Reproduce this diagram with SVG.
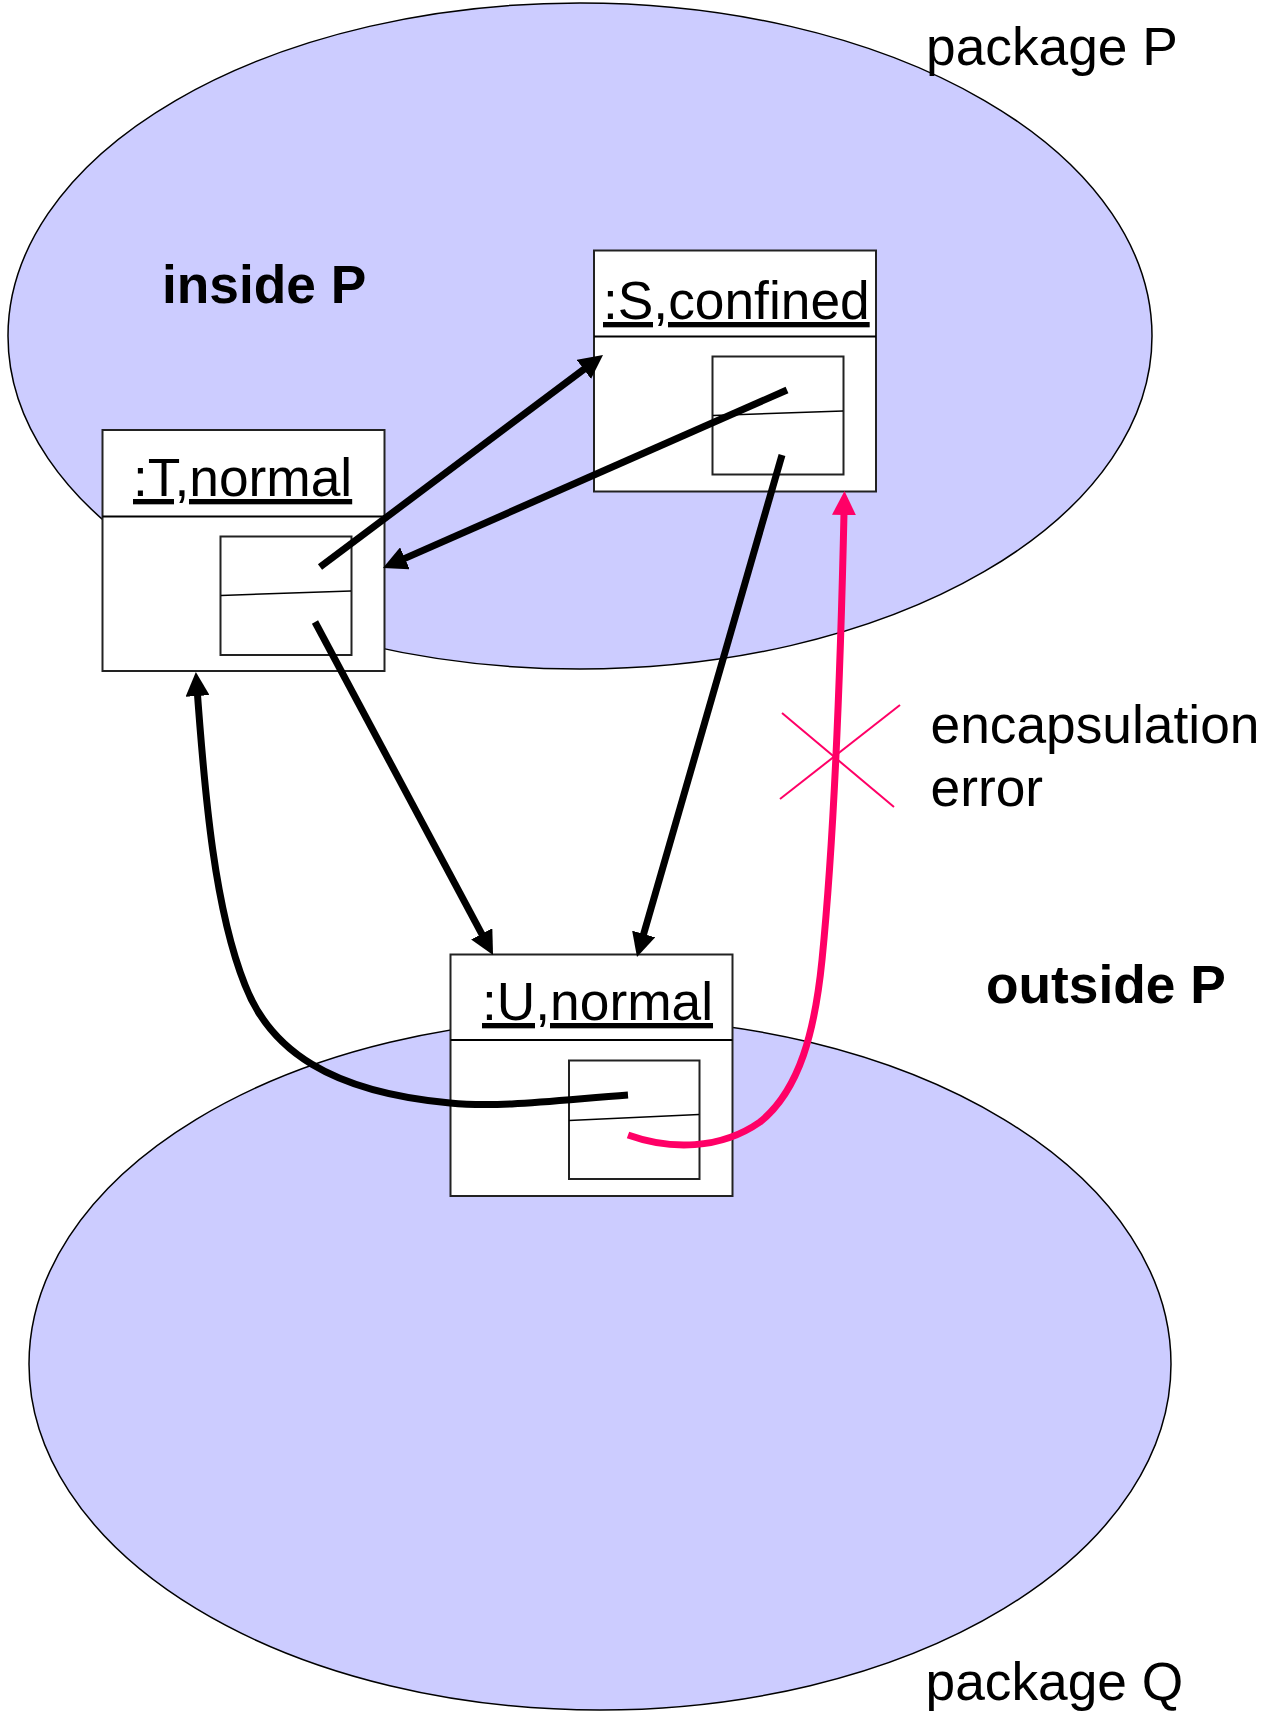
<svg xmlns="http://www.w3.org/2000/svg" width="1274" height="1713" viewBox="0 0 1274 1713">
<style>
  .pkg { fill: #CCCCFF; stroke: #000; stroke-width: 1.5; }
  .box { fill: #fff; stroke: #222; stroke-width: 2; }
  .sep { stroke: #000; stroke-width: 2; fill: none; }
  .thin { stroke: #000; stroke-width: 1.5; fill: none; }
  .lbl { font-family: "Liberation Sans", Arial, sans-serif; font-size: 53.3px; fill: #000; }
  .bold { font-weight: bold; }
  .ul { text-decoration: underline; }
  .conn { fill: none; stroke: #000; stroke-width: 7; }
  .err { fill: none; stroke: #FF0066; stroke-width: 7; }
  .cross { stroke: #FF0066; stroke-width: 2; }
</style>
<defs>
  <marker id="ah" markerUnits="userSpaceOnUse" viewBox="0 0 24 24" markerWidth="24" markerHeight="24" refX="15" refY="12" orient="auto">
    <path d="M0,0 L24,12 L0,24 z" fill="#000"/>
  </marker>
  <marker id="ahr" markerUnits="userSpaceOnUse" viewBox="0 0 24 24" markerWidth="24" markerHeight="24" refX="15" refY="12" orient="auto">
    <path d="M0,0 L24,12 L0,24 z" fill="#FF0066"/>
  </marker>
</defs>

<g id="packageP">
  <ellipse class="pkg" cx="580" cy="336" rx="572" ry="333"/>
  <text class="lbl" x="926" y="65">package P</text>
  <text class="lbl bold" x="162" y="303">inside P</text>
</g>

<g id="packageQ">
  <ellipse class="pkg" cx="600" cy="1364" rx="571" ry="346"/>
  <text class="lbl" x="925.5" y="1700">package Q</text>
</g>

<g id="outsideP">
  <text class="lbl bold" x="986" y="1003">outside P</text>
</g>

<g id="nodeS">
  <rect class="box" x="594" y="250.5" width="282" height="241"/>
  <line class="sep" x1="594" y1="336.5" x2="876" y2="336.5"/>
  <text class="lbl ul" x="603" y="319">:S,confined</text>
  <rect class="box" x="712.5" y="356.5" width="131" height="118"/>
  <line class="thin" x1="713" y1="415.5" x2="843" y2="411"/>
</g>

<g id="nodeT">
  <rect class="box" x="102.5" y="430" width="282" height="241"/>
  <line class="sep" x1="102.5" y1="516.5" x2="384.5" y2="516.5"/>
  <text class="lbl ul" x="133" y="496">:T,normal</text>
  <rect class="box" x="220.5" y="536.5" width="131" height="118.5"/>
  <line class="thin" x1="221" y1="595.5" x2="351" y2="591"/>
</g>

<g id="nodeU">
  <rect class="box" x="450.5" y="954.5" width="282" height="241.5"/>
  <line class="sep" x1="450.5" y1="1040" x2="732.5" y2="1040"/>
  <text class="lbl ul" x="482" y="1020">:U,normal</text>
  <rect class="box" x="569" y="1060.5" width="130.5" height="118.5"/>
  <line class="thin" x1="569" y1="1120.5" x2="699" y2="1114.5"/>
</g>

<g id="encapsulationError">
  <line class="cross" x1="782" y1="713" x2="894" y2="807"/>
  <line class="cross" x1="780" y1="799" x2="900" y2="705"/>
  <text class="lbl" x="930.5" y="743">encapsulation</text>
  <text class="lbl" x="930.5" y="806">error</text>
</g>

<g id="connectors">
  <path class="conn" d="M320,567 L595.8,360.4" marker-end="url(#ah)"/>
  <path class="conn" d="M787,390 L391.2,564.4" marker-end="url(#ah)"/>
  <path class="conn" d="M782,455 L639.5,948.4" marker-end="url(#ah)"/>
  <path class="conn" d="M315,622 L488.8,947.1" marker-end="url(#ah)"/>
  <path class="conn" d="M628,1095 C560,1100 500,1108 450,1103 C330,1092 270,1050 245,985 C215,910 205,800 196.5,681" marker-end="url(#ah)"/>
  <path class="err" d="M628,1135 C670,1150 720,1150 760,1122 C800,1090 815,1030 822,960 C832,860 840,700 844.3,500" marker-end="url(#ahr)"/>
</g>
</svg>
